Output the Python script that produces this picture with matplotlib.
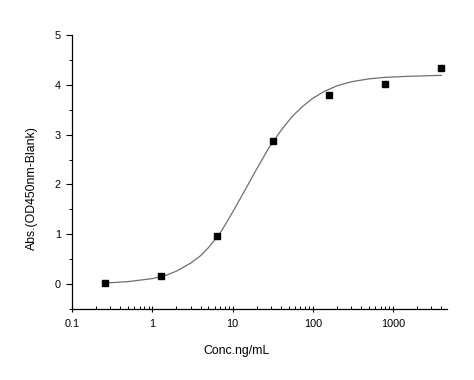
import numpy as np
import matplotlib
matplotlib.use('Agg')
import matplotlib.pyplot as plt
from matplotlib.ticker import LogLocator, FixedLocator, NullFormatter

plt.rcParams['font.family'] = ['Liberation Sans', 'DejaVu Sans']

# measured points
conc = [0.256, 1.28, 6.4, 32, 160, 800, 4000]
absorb = [0.02, 0.16, 0.97, 2.87, 3.80, 4.01, 4.33]

# fitted curve
curve_x = [0.256, 0.5, 1, 1.5, 2, 3, 4, 5, 7, 10, 14, 20, 28, 40, 55, 75,
           100, 140, 200, 300, 500, 800, 1500, 4000]
curve_y = [0.02, 0.05, 0.11, 0.18, 0.26, 0.42, 0.57, 0.73, 1.02, 1.44, 1.86,
           2.31, 2.72, 3.08, 3.36, 3.57, 3.73, 3.87, 3.98, 4.06, 4.12, 4.15,
           4.17, 4.19]

fig = plt.figure(figsize=(4.74, 3.8), dpi=100)
ax = fig.add_axes([72/474, 71/380, 375/474, 274/380])

ax.plot(curve_x, curve_y, color='#6e6e6e', lw=0.9)
ax.plot(conc, absorb, 's', color='black', ms=3.8, ls='none')

ax.set_xscale('log')
ax.set_xlim(0.1, 4700)
ax.set_ylim(-0.5, 5)

ax.xaxis.set_major_locator(FixedLocator([0.1, 1, 10, 100, 1000]))
ax.set_xticklabels(['0.1', '1', '10', '100', '1000'])
ax.xaxis.set_minor_locator(LogLocator(base=10, subs=np.arange(2, 10)))
ax.xaxis.set_minor_formatter(NullFormatter())
ax.set_yticks([0, 1, 2, 3, 4, 5])
ax.set_yticks(np.arange(-0.5, 5.0, 1.0), minor=True)

for s in ['top', 'right']:
    ax.spines[s].set_visible(False)
for s in ['left', 'bottom']:
    ax.spines[s].set_linewidth(0.9)

ax.tick_params(axis='x', which='major', direction='inout', length=5, width=0.8,
               labelsize=7.8, pad=5)
ax.tick_params(axis='x', which='minor', direction='in', length=2.5, width=0.7)
ax.tick_params(axis='y', which='major', direction='out', length=4, width=0.8,
               labelsize=7.8, pad=4)
ax.tick_params(axis='y', which='minor', direction='out', length=2, width=0.7)

ax.set_xlabel('Conc.ng/mL', fontsize=8.8)
ax.set_ylabel('Abs.(OD450nm-Blank)', fontsize=8.8)
ax.xaxis.set_label_coords(0.44, -0.13)
ax.yaxis.set_label_coords(-0.09, 0.44)

fig.savefig('out.png', dpi=100)
